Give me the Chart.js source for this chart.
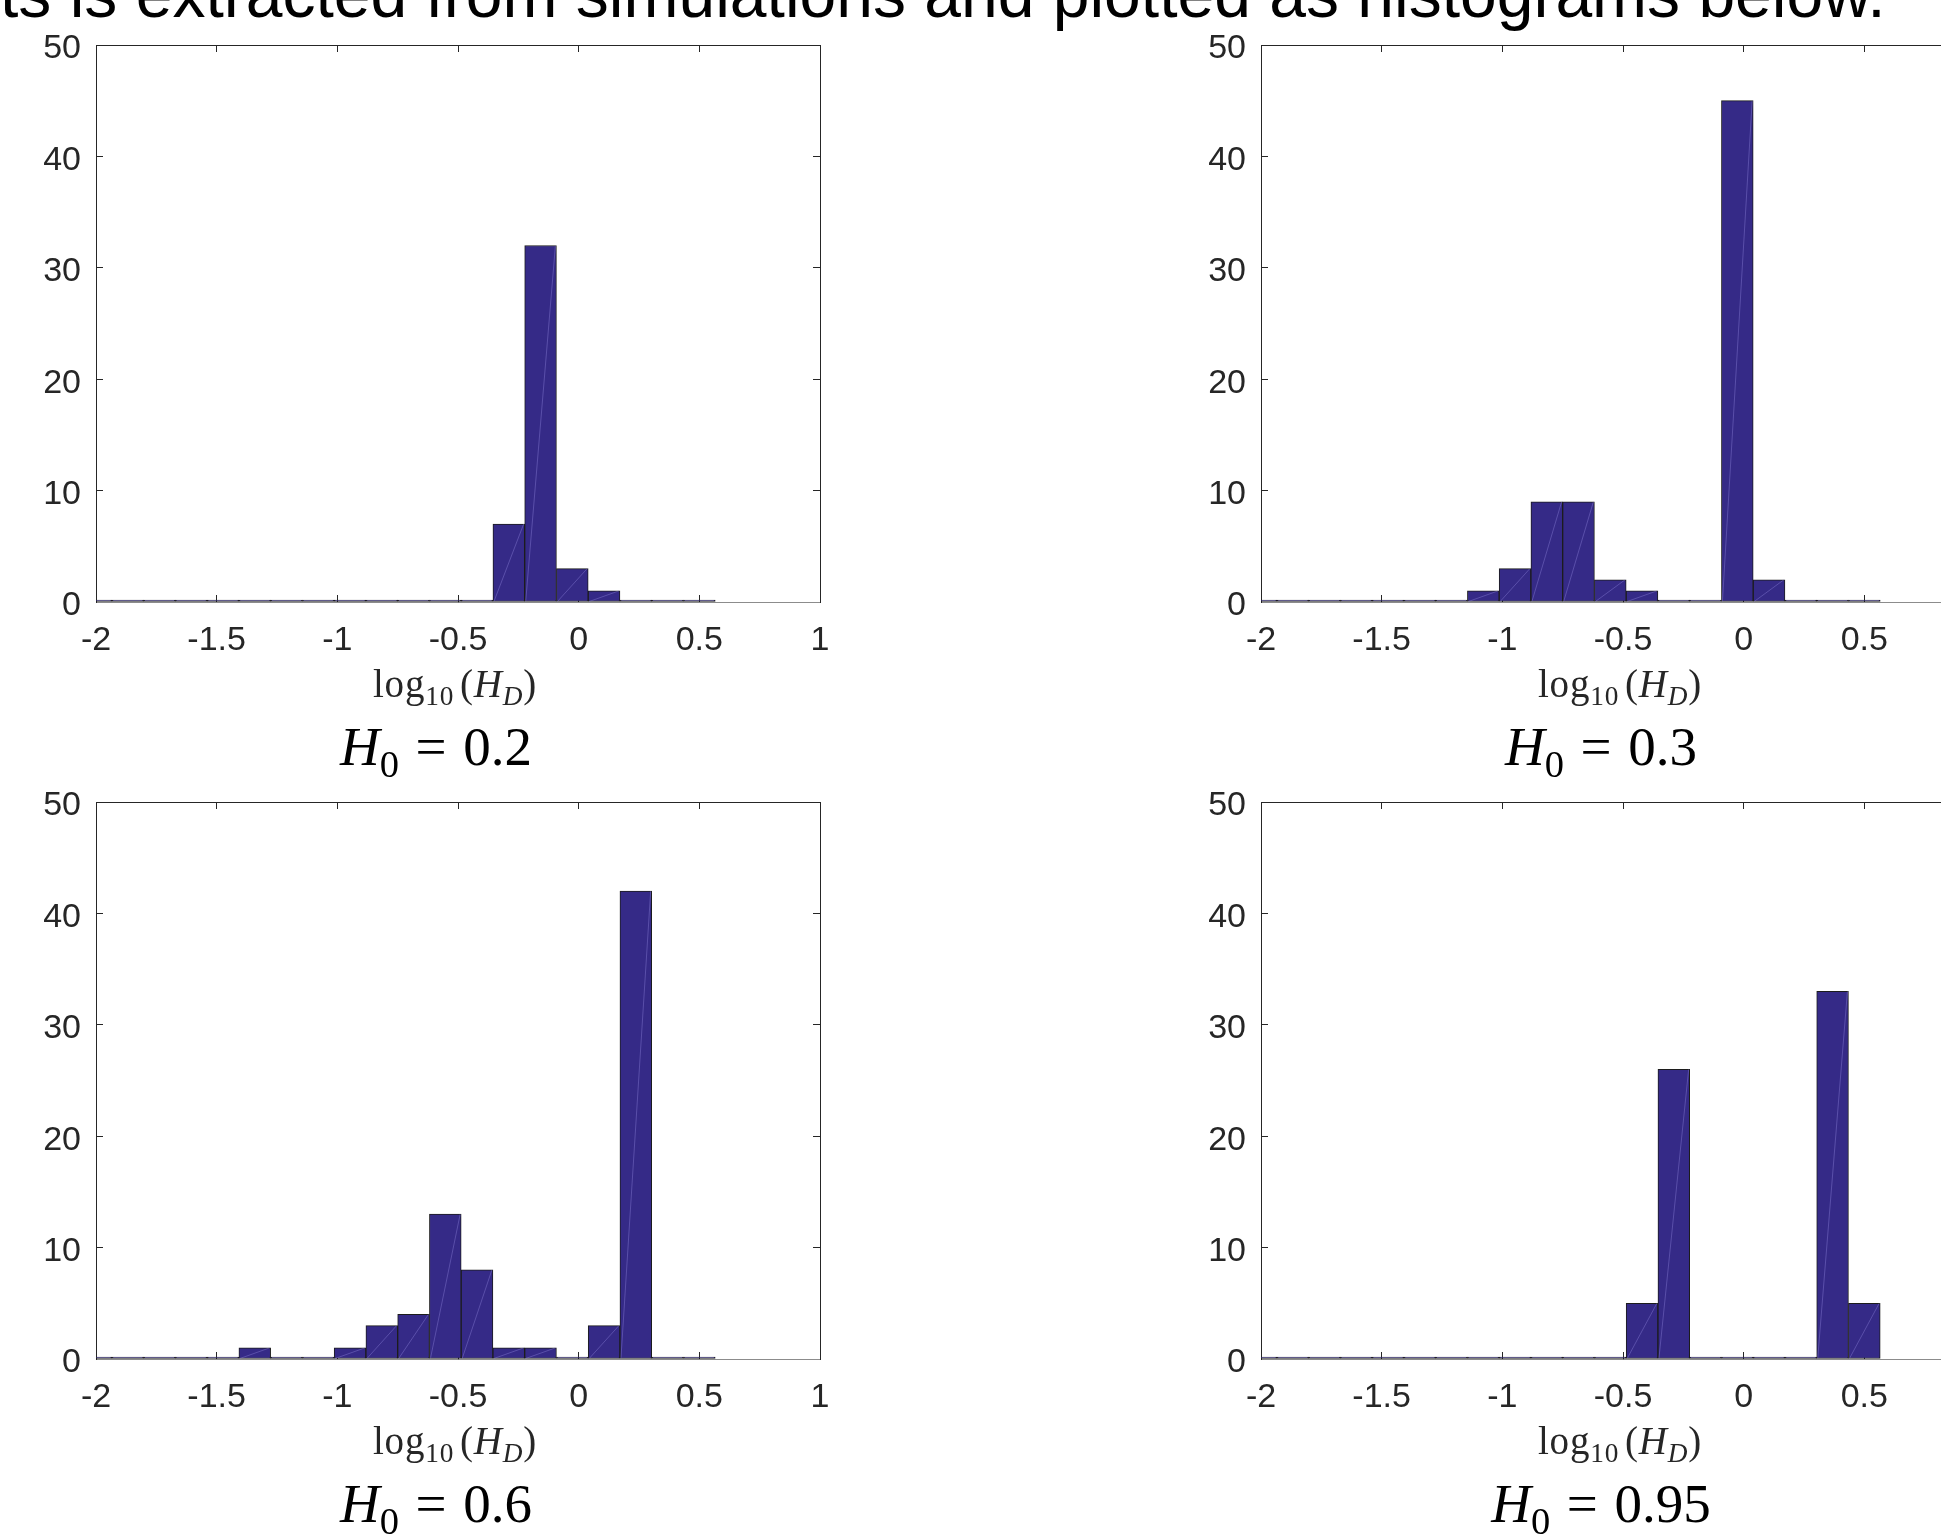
<!DOCTYPE html>
<html lang="en">
<head>
<meta charset="UTF-8">
<title>Histograms of log10(H_D)</title>
<script src="https://cdn.jsdelivr.net/npm/chart.js"></script>
<style>
  html, body { margin: 0; padding: 0; overflow: hidden; background: #fff; }
  body { width: 1941px; height: 1534px; position: relative; }
  .lead {
    position: absolute; left: 0; top: -39px;
    font: 66px 'Liberation Sans', Arial, sans-serif; line-height: 1;
    white-space: nowrap; color: #000;
  }
  canvas { position: absolute; }
  .xlab, .ttl {
    position: absolute; width: 400px; text-align: center;
    font-family: 'Liberation Serif', 'Times New Roman', serif;
    line-height: 1; white-space: nowrap;
  }
  .xlab { font-size: 39px; color: #262626; letter-spacing: 0.8px; }
  .ttl { font-size: 55px; color: #000; }
  sub { font-size: 0.7em; vertical-align: baseline; position: relative; top: 0.3em; line-height: 0; }
  .eq { margin: 0 0.3em; }
  .gap { margin-left: 0.15em; }
</style>
</head>
<body>
<div class="lead">ts is extracted from simulations and plotted as histograms below.</div>

<script>
// histogram bin centres (log10 H_D), shared by all four panels
const binCenters = [-2, -1.8684, -1.7368, -1.6053, -1.4737, -1.3421, -1.2105, -1.0789, -0.9474, -0.8158,
                    -0.6842, -0.5526, -0.4211, -0.2895, -0.1579, -0.0263, 0.1053, 0.2368, 0.3684, 0.5];

// counts per bin
const countsH02  = [0, 0, 0, 0, 0, 0, 0, 0, 0, 0, 0, 0, 0, 7, 32, 3, 1, 0, 0, 0];
const countsH03  = [0, 0, 0, 0, 0, 0, 0, 1, 3, 9, 9, 2, 1, 0, 0, 45, 2, 0, 0, 0];
const countsH06  = [0, 0, 0, 0, 0, 1, 0, 0, 1, 3, 4, 13, 8, 1, 1, 0, 3, 42, 0, 0];
const countsH095 = [0, 0, 0, 0, 0, 0, 0, 0, 0, 0, 0, 0, 5, 26, 0, 0, 0, 0, 33, 5];

const xTicks = [-2, -1.5, -1, -0.5, 0, 0.5, 1];
const yTicks = [0, 10, 20, 30, 40, 50];

const FILL = 'rgb(53,42,135)';
const AXIS = '#262626';

const PLOT_W = 724, PLOT_H = 557;
const PAD_L = 100, PAD_R = 40, PAD_T = 30, PAD_B = 70;

const panels = [
  { left: 96,   top: 45,  counts: countsH02,  h0: '0.2' },
  { left: 1261, top: 45,  counts: countsH03,  h0: '0.3' },
  { left: 96,   top: 802, counts: countsH06,  h0: '0.6' },
  { left: 1261, top: 802, counts: countsH095, h0: '0.95' }
];

Chart.defaults.font.family = "'Liberation Sans', Arial, sans-serif";
Chart.defaults.color = AXIS;

function fixTicks(values) {
  return scale => { scale.ticks = values.map(v => ({ value: v })); };
}

// fixed axis thickness, and no extra room for overhanging labels
function fixSize(size) {
  return s => {
    if (s.isHorizontal()) s.height = size; else s.width = size;
    s.paddingTop = s.paddingBottom = s.paddingLeft = s.paddingRight = 0;
  };
}

// the faint diagonal seam matlab leaves inside every patch
const seams = {
  id: 'seams',
  afterDatasetsDraw(chart) {
    const ctx = chart.ctx, a = chart.chartArea;
    const vals = chart.data.datasets[0].data;
    ctx.save();
    ctx.beginPath();
    ctx.rect(a.left, a.top, a.right - a.left, a.bottom - a.top);
    ctx.clip();
    ctx.strokeStyle = 'rgba(150,140,225,0.55)';
    ctx.lineWidth = 0.7;
    chart.getDatasetMeta(0).data.forEach((bar, i) => {
      if (!vals[i].y) return;
      const p = bar.getProps(['x', 'y', 'base', 'width'], true);
      ctx.beginPath();
      ctx.moveTo(p.x - p.width / 2 + 1, p.base);
      ctx.lineTo(p.x + p.width / 2 - 1, p.y);
      ctx.stroke();
    });
    ctx.restore();
  }
};

const tickGrid = { drawOnChartArea: false, tickLength: -7, color: AXIS, tickColor: AXIS, offset: false };

panels.forEach(p => {
  const cv = document.createElement('canvas');
  cv.width = PAD_L + PLOT_W + PAD_R;
  cv.height = PAD_T + PLOT_H + PAD_B;
  cv.style.left = (p.left - PAD_L) + 'px';
  cv.style.top = (p.top - PAD_T) + 'px';
  document.body.appendChild(cv);

  new Chart(cv, {
    type: 'bar',
    data: {
      datasets: [{
        data: binCenters.map((x, i) => ({ x: x, y: p.counts[i] })),
        backgroundColor: FILL,
        borderColor: '#1c1c1c',
        borderWidth: 1,
        borderSkipped: false,
        barPercentage: 1,
        categoryPercentage: 1,
        minBarLength: 2,
        clip: { left: 0, right: 0, top: 0, bottom: 0 }
      }]
    },
    options: {
      responsive: false,
      animation: false,
      layout: { padding: { left: 0, right: PAD_R, top: PAD_T, bottom: 0 } },
      plugins: { legend: { display: false }, tooltip: { enabled: false } },
      scales: {
        x: {
          type: 'linear', position: 'bottom', min: -2, max: 1, offset: false,
          afterBuildTicks: fixTicks(xTicks),
          afterFit: fixSize(PAD_B),
          grid: tickGrid,
          border: { color: '#8c8c8c', width: 1 },
          ticks: { padding: 25, color: AXIS, font: { size: 34 }, maxRotation: 0, autoSkip: false,
                   callback: v => String(v) }
        },
        x2: {
          type: 'linear', position: 'top', min: -2, max: 1, offset: false,
          afterBuildTicks: fixTicks(xTicks),
          afterFit: fixSize(0),
          grid: tickGrid,
          border: { color: AXIS, width: 1 },
          ticks: { display: false }
        },
        y: {
          type: 'linear', position: 'left', min: 0, max: 50,
          afterBuildTicks: fixTicks(yTicks),
          afterFit: fixSize(PAD_L),
          grid: tickGrid,
          border: { color: AXIS, width: 1 },
          ticks: { padding: 22, labelOffset: 4, color: AXIS, font: { size: 34 }, callback: v => String(v) }
        },
        y2: {
          type: 'linear', position: 'right', min: 0, max: 50,
          afterBuildTicks: fixTicks(yTicks),
          afterFit: fixSize(0),
          grid: tickGrid,
          border: { color: AXIS, width: 1 },
          ticks: { display: false }
        }
      }
    },
    plugins: [seams]
  });

  const xl = document.createElement('div');
  xl.className = 'xlab';
  xl.style.left = (p.left + 359 - 200) + 'px';
  xl.style.top = (p.top + 619) + 'px';
  xl.innerHTML = 'log<sub>10</sub><span class="gap"></span>(<i>H</i><sub><i>D</i></sub>)';
  document.body.appendChild(xl);

  const tt = document.createElement('div');
  tt.className = 'ttl';
  tt.style.left = (p.left + 340 - 200) + 'px';
  tt.style.top = (p.top + 674) + 'px';
  tt.innerHTML = '<i>H</i><sub>0</sub><span class="eq">=</span>' + p.h0;
  document.body.appendChild(tt);
});
</script>
</body>
</html>
